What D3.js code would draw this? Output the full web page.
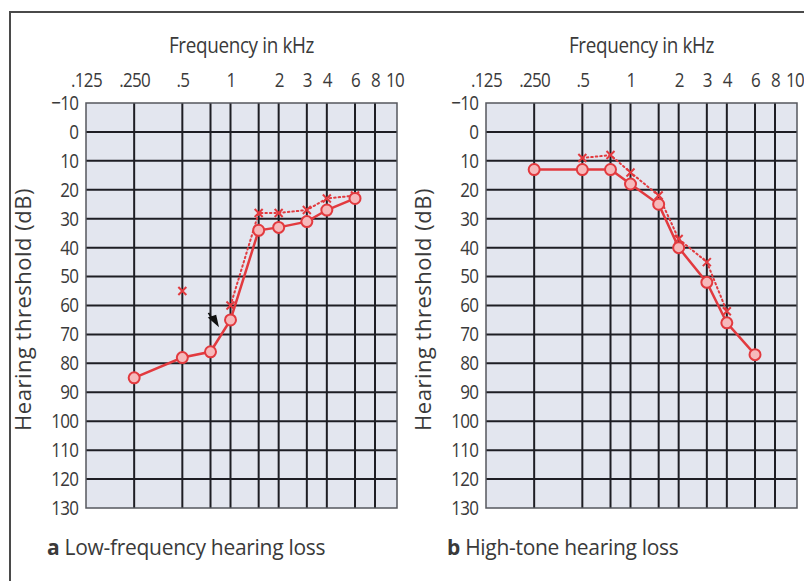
<!DOCTYPE html>
<html>
<head>
<meta charset="utf-8">
<script src="https://cdn.jsdelivr.net/npm/d3@7"></script>
<style>
  html, body { margin: 0; padding: 0; background: #ffffff; }
  svg { display: block; }
  text { font-family: "Open Sans", "Noto Sans", sans-serif; fill: #3a3a3a; }
</style>
</head>
<body>
<svg id="chart" width="804" height="581"></svg>
<script>
// ---- data ----
const freqTicks = [0.125, 0.25, 0.5, 1, 2, 3, 4, 6, 8, 10];
const freqTickLabels = [".125", ".250", ".5", "1", "2", "3", "4", "6", "8", "10"];
const gridFreqs = [0.25, 0.5, 0.75, 1, 1.5, 2, 3, 4, 6, 8];
const dbTicks = [-10, 0, 10, 20, 30, 40, 50, 60, 70, 80, 90, 100, 110, 120, 130];

// panel a: low-frequency hearing loss
const aAirFreq = [0.25, 0.5, 0.75, 1, 1.5, 2, 3, 4, 6];
const aAirDb   = [85, 78, 76, 65, 34, 33, 31, 27, 23];
const aBoneFreq = [1, 1.5, 2, 3, 4, 6];
const aBoneDb   = [60, 28, 28, 27, 23, 22];
const aLoneFreq = [0.5];
const aLoneDb   = [55];
const aArrowFreq = [0.75];
const aArrowDb   = [66];

// panel b: high-tone hearing loss
const bAirFreq = [0.25, 0.5, 0.75, 1, 1.5, 2, 3, 4, 6];
const bAirDb   = [13, 13, 13, 18, 25, 40, 52, 66, 77];
const bBoneFreq = [0.5, 0.75, 1, 1.5, 2, 3, 4];
const bBoneDb   = [9, 8, 14, 22, 37, 45, 62];

const panels = [
  { x0: 86,  caption: "a", title: "Low-frequency hearing loss",
    air: [aAirFreq, aAirDb], bone: [aBoneFreq, aBoneDb], lone: [aLoneFreq, aLoneDb], arrow: [aArrowFreq, aArrowDb] },
  { x0: 486, caption: "b", title: "High-tone hearing loss",
    air: [bAirFreq, bAirDb], bone: [bBoneFreq, bBoneDb], lone: [[], []], arrow: [[], []] }
];

// ---- layout ----
const svg = d3.select("#chart");
const top0 = 103, plotW = 311, plotH = 405;
const red = "#e23a3f";

// outer frame
svg.append("rect").attr("x", 10).attr("y", 12).attr("width", 820).attr("height", 600)
  .attr("fill", "none").attr("stroke", "#4a4a4a").attr("stroke-width", 2);

const x = d3.scaleLog().base(2).domain([0.125, 8, 10]).range([0, 289, plotW]);
const y = d3.scaleLinear().domain([-10, 130]).range([0, plotH]);

const zip = (a, b) => a.map((v, i) => [v, b[i]]);

panels.forEach(p => {
  const g = svg.append("g").attr("transform", `translate(${p.x0},${top0})`);

  g.append("rect").attr("width", plotW).attr("height", plotH).attr("fill", "#e3e6ef");

  // grid
  g.selectAll("line.v").data(gridFreqs).join("line")
    .attr("x1", d => x(d)).attr("x2", d => x(d)).attr("y1", 0).attr("y2", plotH)
    .attr("stroke", "#1e1e24").attr("stroke-width", 2);
  g.selectAll("line.h").data(dbTicks.slice(1, -1)).join("line")
    .attr("x1", 0).attr("x2", plotW).attr("y1", d => y(d)).attr("y2", d => y(d))
    .attr("stroke", "#1e1e24").attr("stroke-width", 2);
  g.append("rect").attr("width", plotW).attr("height", plotH).attr("fill", "none")
    .attr("stroke", "#55575e").attr("stroke-width", 1.5);

  // axes labels
  const xAxis = d3.axisTop(x).tickValues(freqTicks).tickSize(0).tickPadding(16)
    .tickFormat((d, i) => freqTickLabels[i]);
  const xa = g.append("g").call(xAxis);
  xa.select(".domain").remove();
  xa.selectAll("text").attr("font-size", 20).attr("fill", "#3a3a3a").attr("letter-spacing", -0.8)
    .attr("transform", "scale(0.85,1)")
    .attr("dx", d => d === 10 ? -3 : 0)
    .style("font-family", '"Open Sans", sans-serif');

  const yAxis = d3.axisLeft(y).tickValues(dbTicks).tickSize(0).tickPadding(9);
  const ya = g.append("g").call(yAxis);
  ya.select(".domain").remove();
  ya.selectAll("text").attr("font-size", 20).attr("fill", "#3a3a3a").attr("letter-spacing", -0.8)
    .attr("transform", "scale(0.85,1)")
    .style("font-family", '"Open Sans", sans-serif');

  g.append("text").attr("transform", `translate(${plotW / 2},-50) scale(0.9,1)`).attr("text-anchor", "middle")
    .attr("font-size", 21).attr("letter-spacing", -0.4).text("Frequency in kHz");
  g.append("text").attr("transform", `translate(-55,${plotH / 2 + 4}) rotate(-90)`)
    .attr("text-anchor", "middle").attr("font-size", 22).attr("letter-spacing", 0.5)
    .text("Hearing threshold (dB)");

  const cap = g.append("text").attr("x", -39).attr("y", plotH + 47).attr("font-size", 21)
    .attr("letter-spacing", -0.3);
  cap.append("tspan").attr("font-weight", "bold").text(p.caption + " ");
  cap.append("tspan").text(p.title);

  // bone (dotted, x markers)
  const bone = zip(p.bone[0], p.bone[1]);
  const line = d3.line().x(d => x(d[0])).y(d => y(d[1]));
  g.append("path").attr("d", line(bone)).attr("fill", "none").attr("stroke", red)
    .attr("stroke-width", 2).attr("stroke-dasharray", "1.5,3").attr("stroke-linecap", "round");

  const crosses = bone.concat(zip(p.lone[0], p.lone[1]));
  g.selectAll("path.cross").data(crosses).join("path")
    .attr("d", d => {
      const cx = x(d[0]), cy = y(d[1]), s = 4;
      return `M${cx - s},${cy - s}L${cx + s},${cy + s}M${cx + s},${cy - s}L${cx - s},${cy + s}`;
    })
    .attr("stroke", red).attr("stroke-width", 2).attr("fill", "none");

  // air (solid, circles)
  const air = zip(p.air[0], p.air[1]);
  g.append("path").attr("d", line(air)).attr("fill", "none").attr("stroke", red)
    .attr("stroke-width", 2.5);
  g.selectAll("circle.air").data(air).join("circle")
    .attr("cx", d => x(d[0])).attr("cy", d => y(d[1])).attr("r", 5.5)
    .attr("fill", "#f6b9bb").attr("stroke", red).attr("stroke-width", 2);

  // arrow marker
  const arrows = zip(p.arrow[0], p.arrow[1]);
  g.selectAll("path.arrow").data(arrows).join("path")
    .attr("d", d => {
      const cx = x(d[0]) + 4, cy = y(d[1]) - 1;
      return `M${cx - 6},${cy - 9}L${cx - 1},${cy - 1}M${cx - 5},${cy - 4}L${cx + 3},${cy + 3}L${cx + 1},${cy - 6}Z`;
    })
    .attr("stroke", "#111").attr("stroke-width", 1.8).attr("fill", "#111");
});
</script>
</body>
</html>
